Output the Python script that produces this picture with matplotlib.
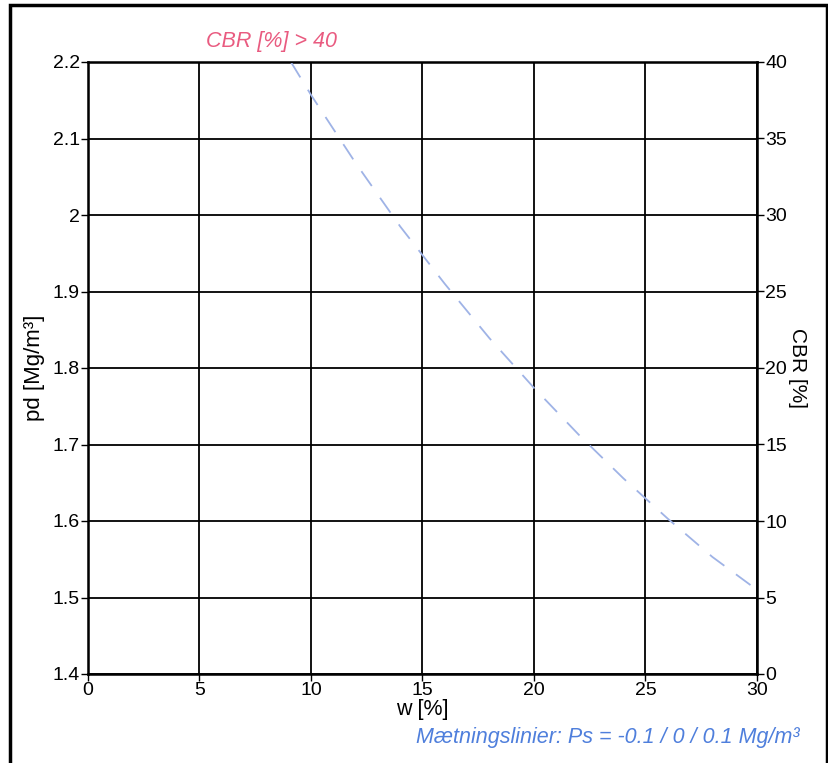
import matplotlib
matplotlib.use("Agg")
import matplotlib.pyplot as plt
from matplotlib.patches import Rectangle

plt.rcParams.update({
    "font.family": ["Liberation Sans", "DejaVu Sans"],
    "font.size": 14,
})

# saturation line
sat_w = [9.1, 10, 12, 14, 16, 18, 20, 22, 24, 26, 28, 30]
sat_pd = [2.20, 2.157, 2.068, 1.985, 1.910, 1.839, 1.774, 1.713, 1.656, 1.603, 1.553, 1.510]

w_ticks = [0, 5, 10, 15, 20, 25, 30]
pd_ticks = [1.4, 1.5, 1.6, 1.7, 1.8, 1.9, 2.0, 2.1, 2.2]
pd_labels = ["1.4", "1.5", "1.6", "1.7", "1.8", "1.9", "2", "2.1", "2.2"]
cbr_ticks = [0, 5, 10, 15, 20, 25, 30, 35, 40]

fig = plt.figure(figsize=(8.29, 7.63), dpi=100)
ax = fig.add_axes([88 / 829, 1 - 674 / 763, 669 / 829, 612 / 763])

ax.plot(sat_w, sat_pd, color="#9fb3e6", linewidth=1.3,
        dashes=(10, 8), zorder=3)

ax.set_xlim(0, 30)
ax.set_ylim(1.4, 2.2)
ax.set_xticks(w_ticks)
ax.set_yticks(pd_ticks)
ax.set_yticklabels(pd_labels)
ax.grid(True, color="black", linewidth=1.3)
ax.tick_params(axis="both", direction="out", length=5, width=1, pad=1,
               labelsize=14)
for s in ax.spines.values():
    s.set_linewidth(1.8)
ax.set_xlabel("w [%]", fontsize=15.5, labelpad=0)
ax.set_ylabel("pd [Mg/m³]", fontsize=16, labelpad=5)

ax2 = ax.twinx()
ax2.set_ylim(0, 40)
ax2.set_yticks(cbr_ticks)
ax2.tick_params(axis="y", direction="out", length=5, width=1, pad=1,
                labelsize=14)
ax2.set_ylabel("CBR [%]", fontsize=15, rotation=270, labelpad=14)

fig.text(272 / 829, 1 - 42 / 763, "CBR [%] > 40", color="#e95b80",
         fontsize=15.5, style="italic", ha="center", va="center")
fig.text(800 / 829, 1 - 738 / 763,
         "Mætningslinier: Ps = -0.1 / 0 / 0.1 Mg/m³", color="#4f7fdc",
         fontsize=15.5, style="italic", ha="right", va="center")

fig.patches.append(Rectangle((10 / 829, -0.01), 817 / 829, 1 - 5 / 763 + 0.01,
                             transform=fig.transFigure, fill=False,
                             edgecolor="black", linewidth=2.5))

fig.savefig("out.png", dpi=100, facecolor="white")
